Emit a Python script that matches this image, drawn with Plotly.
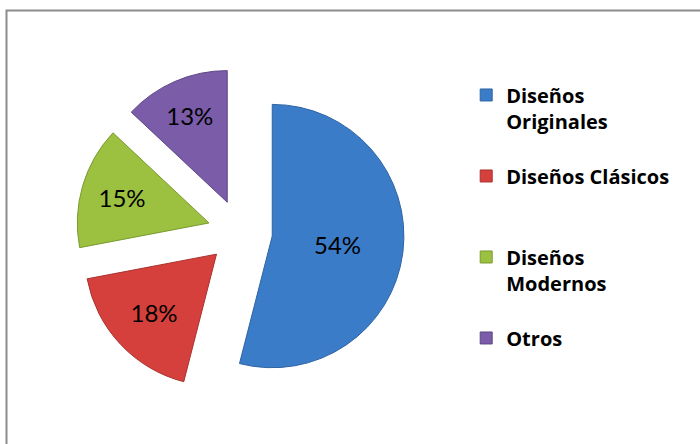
import plotly.graph_objects as go

labels = ["Diseños Originales", "Diseños Clásicos", "Diseños Modernos", "Otros"]
legend_names = ["Diseños<br>Originales<br>\u00a0", "Diseños Clásicos<br>\u00a0<br>\u00a0",
                "Diseños<br>Modernos<br>\u00a0", "Otros"]
values = [54, 18, 15, 13]
colors = ["#3b7cc9", "#d6403c", "#9cc03f", "#7b5ca9"]
edge_colors = ["#2f64a3", "#a8322f", "#7a9a30", "#5f4785"]

fig = go.Figure(go.Pie(
    labels=legend_names,
    values=values,
    sort=False,
    direction="clockwise",
    rotation=0,
    pull=[0.246, 0.246, 0.246, 0.246],
    marker=dict(colors=colors, line=dict(color=edge_colors, width=1)),
    textinfo="percent",
    texttemplate="%{percent:.0%}",
    textposition="inside",
    insidetextorientation="horizontal",
    textfont=dict(family="Lato, Open Sans, sans-serif", size=24, color="#000000"),
    domain=dict(x=[0.108, 0.578], y=[0.108, 0.847]),
    hoverinfo="label+percent",
))

fig.update_layout(
    width=700, height=444,
    margin=dict(l=0, r=0, t=0, b=0),
    paper_bgcolor="white",
    plot_bgcolor="white",
    showlegend=True,
    legend=dict(
        x=0.666, y=0.83, xanchor="left", yanchor="top",
        valign="top",
        font=dict(family="Open Sans, Lato, sans-serif", size=20, color="#000000", weight="bold"),
        bgcolor="rgba(0,0,0,0)",
        traceorder="normal",
    ),
    shapes=[dict(type="rect", xref="paper", yref="paper",
                 x0=6.5 / 700, x1=1.1, y0=-0.1, y1=1 - 10.5 / 444,
                 line=dict(color="#8c8c8c", width=2), layer="above")],
)

fig.write_html("out.html",
               config={"displayModeBar": False},
               post_script="document.body.style.margin='0';document.body.style.padding='0';")
